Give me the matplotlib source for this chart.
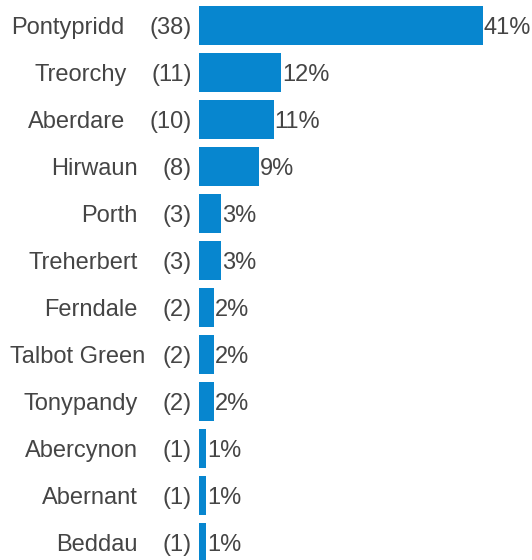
import matplotlib
matplotlib.use('Agg')
import matplotlib.pyplot as plt

towns = ['Pontypridd', 'Treorchy', 'Aberdare', 'Hirwaun', 'Porth', 'Treherbert',
         'Ferndale', 'Talbot Green', 'Tonypandy', 'Abercynon', 'Abernant', 'Beddau']
counts = [38, 11, 10, 8, 3, 3, 2, 2, 2, 1, 1, 1]
percents = [41, 12, 11, 9, 3, 3, 2, 2, 2, 1, 1, 1]

bar_color = '#0786cf'
text_color = '#454545'
fsize = 17

plt.rcParams['font.family'] = ['Liberation Sans', 'DejaVu Sans']

W, H = 532, 560
fig = plt.figure(figsize=(W / 100, H / 100), dpi=100)
left_px = 199
ax = fig.add_axes([left_px / W, 0, 1 - left_px / W, 1])
ax.axis('off')

ypos = list(range(len(towns)))
ax.barh(ypos, counts, height=0.83, color=bar_color)
ax.set_xlim(0, (W - left_px) / 7.47)
ax.set_ylim((H - 25.5) / 47, -25.5 / 47)

count_texts = []
for i, (c, p) in enumerate(zip(counts, percents)):
    ax.annotate('{}%'.format(p), xy=(c, i), xytext=(1, 0), textcoords='offset pixels',
                ha='left', va='center_baseline', fontsize=fsize, color=text_color)
    t = ax.annotate('({})'.format(c), xy=(0, i), xycoords=('axes fraction', 'data'),
                    xytext=(-7, 0), textcoords='offset pixels',
                    ha='right', va='center_baseline', fontsize=fsize, color=text_color)
    count_texts.append(t)

fig.canvas.draw()
renderer = fig.canvas.get_renderer()
for i, name in enumerate(towns):
    bb = count_texts[i].get_window_extent(renderer)
    x_right = bb.x0 - 25
    y_disp = ax.transData.transform((0, i))[1]
    t = fig.text(x_right / W, y_disp / H, name, ha='right', va='center_baseline',
                 fontsize=fsize, color=text_color)
    w = t.get_window_extent(renderer).width
    if x_right - w < 10:
        t.set_ha('left')
        t.set_x(10 / W)

fig.savefig('out.png', dpi=100)
